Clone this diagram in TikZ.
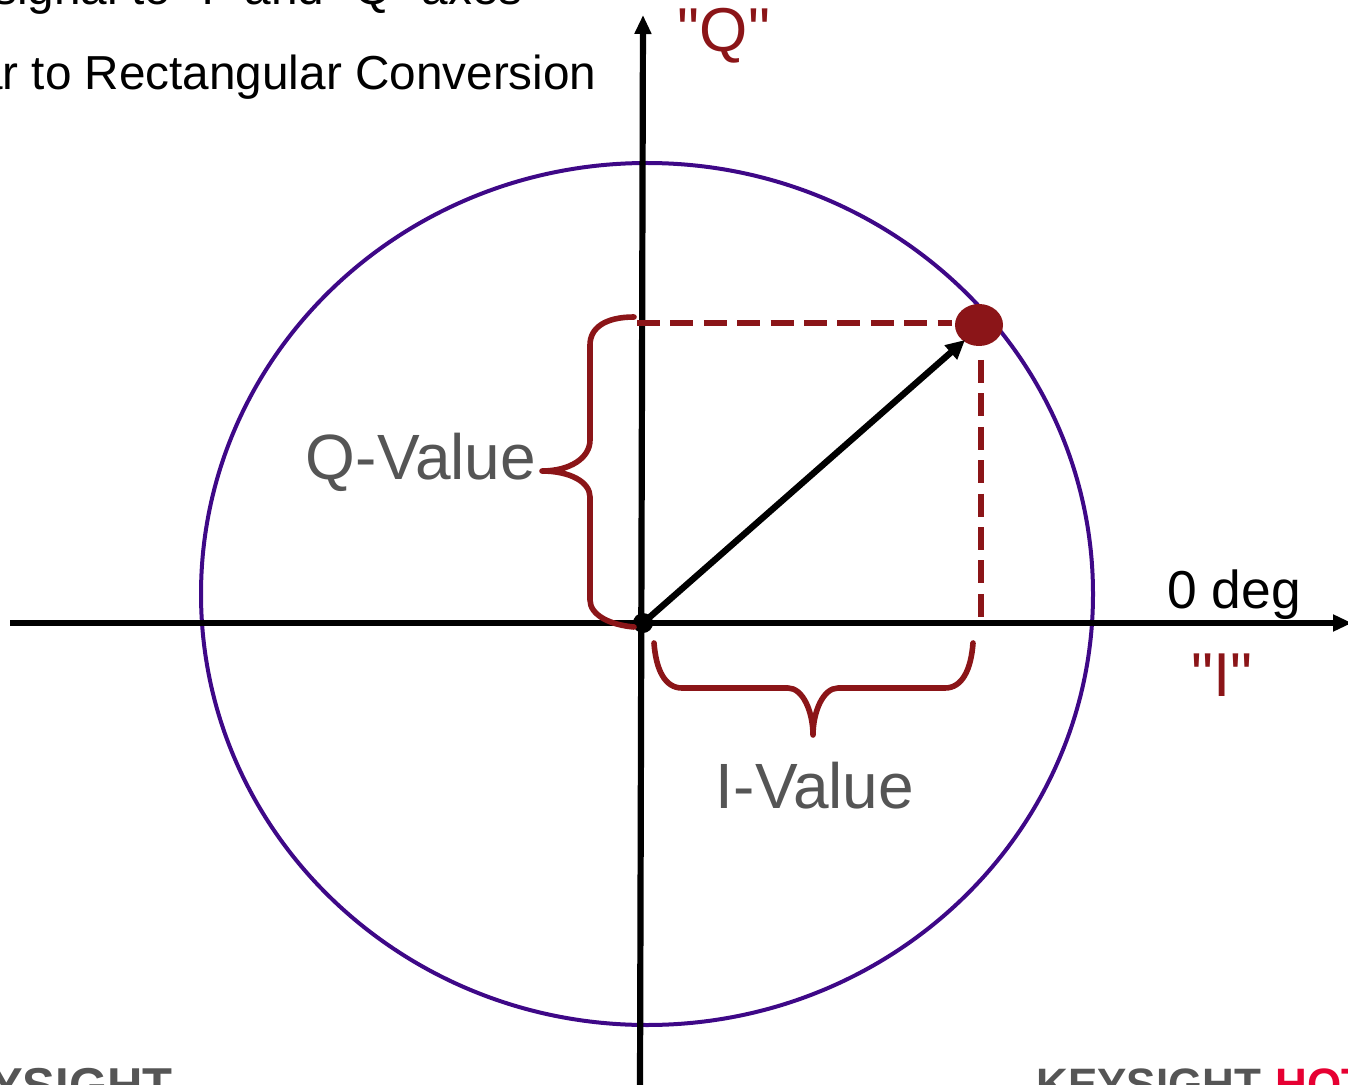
\documentclass[tikz,border=0pt]{standalone}
\usepackage{fontspec}
\setmainfont[Ligatures=TeXOff]{Liberation Sans}
\usepackage{xcolor}
\usetikzlibrary{arrows.meta,positioning,calc,shapes.geometric}
\definecolor{bracered}{RGB}{139,21,24}
\definecolor{circlepurple}{RGB}{62,8,135}
\definecolor{labelgrey}{RGB}{85,85,85}
\definecolor{hotred}{RGB}{230,0,50}
\newcommand{\fsize}[1]{\fontsize{#1}{#1}\selectfont}
\tikzset{
  axisline/.style={black,line width=3.1pt,-{Triangle[length=9.5pt,width=8pt]}},
  vecline/.style={black,line width=3.2pt,-{Triangle[length=9.5pt,width=9pt]}},
  dashline/.style={bracered,line width=3pt,dash pattern=on 11.5pt off 5.2pt},
  bracecurve/.style={bracered,line width=2.8pt,line cap=round,line join=round},
  headtext/.style={anchor=base east,inner sep=0pt,font=\fsize{23.85}},
  redtext/.style={anchor=base,inner sep=0pt,text=bracered,font=\fsize{31}},
  valtext/.style={anchor=base,inner sep=0pt,text=labelgrey,font=\fsize{32}},
  foottext/.style={anchor=base west,inner sep=0pt,text=labelgrey,font=\fsize{22}\bfseries}
}
\begin{document}
\begin{tikzpicture}[x=0.5pt,y=-0.5pt]
\useasboundingbox (0,0) rectangle (1348,1085);
\clip (0,0) rectangle (1348,1085);
% circle
\draw[circlepurple,line width=2pt] (647,594) ellipse [x radius=446,y radius=431];
% points
\node[circle,fill=black,inner sep=0pt,minimum size=10pt] (origin) at (643,623) {};
\node[ellipse,fill=bracered,inner sep=0pt,minimum width=24pt,minimum height=21pt] (tip) at (979,325) {};
\coordinate (iwest) at (10,623);
\coordinate (ieast) at (1352,623);
\coordinate (qsouth) at (640,1085);
\coordinate (qnorth) at (643,15);
\coordinate (qfoot) at (637,323);
\coordinate (dotwest) at (952,323);
\coordinate (ifoot) at (981,618);
\coordinate (itop) at (981,360);
\coordinate (vectip) at (965,340);
% axes
\draw[axisline] (iwest) -- (ieast);
\draw[axisline] (qsouth) -- (qnorth);
\draw[dashline] (qfoot) -- (dotwest);
\draw[dashline] (itop) -- (ifoot);
\draw[vecline] (origin.center) -- (vectip);
% braces
\draw[bracecurve] (634,317) .. controls (605,317) and (590,328) .. (590,345) -- (590,440)
  .. controls (590,458) and (570,471) .. (542,471)
  .. controls (570,471) and (590,482) .. (590,497) -- (590,600)
  .. controls (590,615) and (610,625) .. (634,627);
\draw[bracecurve] (654,643) .. controls (656,670) and (665,688) .. (682,688) -- (788,688)
  .. controls (803,688) and (813,712) .. (813,735)
  .. controls (813,712) and (823,688) .. (838,688) -- (945,688)
  .. controls (962,688) and (971,670) .. (973,643);
% labels
\node[headtext] (headone) at (523,5) {signal to "I" and "Q" axes};
\node[headtext] (headtwo) at (597,90) {Polar to Rectangular Conversion};
\node[redtext] (qlabel) at (724,52) {"Q"};
\node[redtext] (ilabel) at (1222,696) {"I"};
\node[valtext] (qvalue) at (421,479) {Q-Value};
\node[valtext] (ivalue) at (815,808) {I-Value};
\node[anchor=base,inner sep=0pt,font=\fsize{26.7}] (zerodeg) at (1234,608) {0 deg};
\node[foottext,anchor=base east,font=\fsize{24.5}\bfseries] (footleft) at (173,1102) {KEYSIGHT};
\node[foottext] (footright) at (1036,1099.5) {KEYSIGHT\kern1pt\ \textcolor{hotred}{HOT}};
\end{tikzpicture}
\end{document}
